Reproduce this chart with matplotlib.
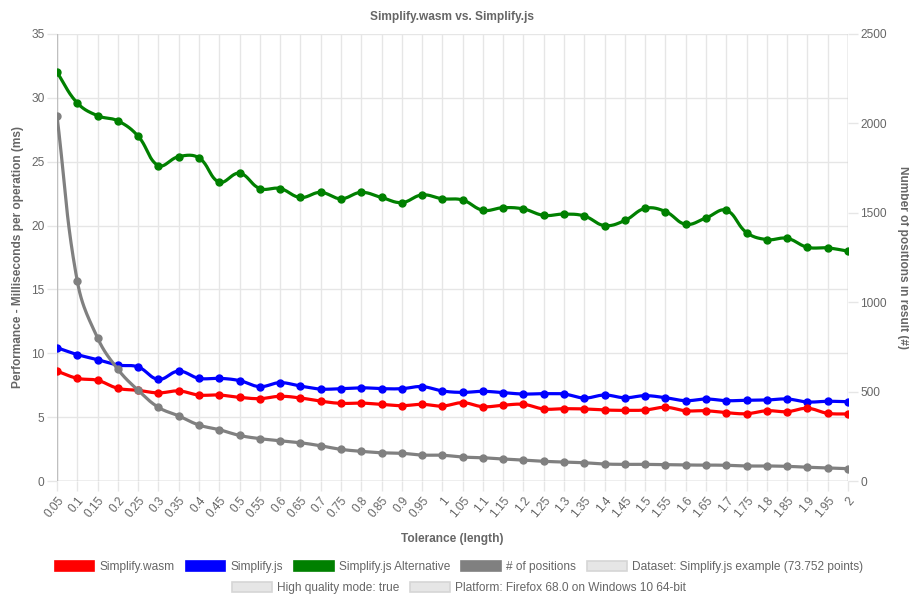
import numpy as np
import matplotlib.pyplot as plt
from matplotlib.patches import Rectangle

plt.rcParams['font.family'] = ['Liberation Sans', 'DejaVu Sans']

tolerance = ['0.05', '0.1', '0.15', '0.2', '0.25', '0.3', '0.35', '0.4', '0.45', '0.5',
             '0.55', '0.6', '0.65', '0.7', '0.75', '0.8', '0.85', '0.9', '0.95', '1',
             '1.05', '1.1', '1.15', '1.2', '1.25', '1.3', '1.35', '1.4', '1.45', '1.5',
             '1.55', '1.6', '1.65', '1.7', '1.75', '1.8', '1.85', '1.9', '1.95', '2']

wasm = [8.6, 8.04, 7.88, 7.26, 7.1, 6.9, 7.05, 6.73, 6.73, 6.55,
        6.45, 6.63, 6.5, 6.25, 6.08, 6.1, 6.0, 5.9, 6.0, 5.87,
        6.13, 5.82, 5.93, 6.0, 5.64, 5.66, 5.64, 5.56, 5.53, 5.56,
        5.77, 5.5, 5.5, 5.35, 5.27, 5.5, 5.43, 5.69, 5.3, 5.25]

simplify_js = [10.44, 9.9, 9.5, 9.08, 8.93, 7.96, 8.6, 8.04, 8.04, 7.86,
               7.39, 7.7, 7.43, 7.2, 7.23, 7.3, 7.23, 7.23, 7.39, 7.05,
               6.94, 7.02, 6.92, 6.81, 6.84, 6.81, 6.5, 6.73, 6.52, 6.68,
               6.52, 6.29, 6.42, 6.29, 6.32, 6.34, 6.42, 6.19, 6.24, 6.21]

simplify_alt = [32.0, 29.6, 28.6, 28.2, 27.0, 24.7, 25.4, 25.3, 23.4, 24.1,
                22.9, 22.9, 22.2, 22.6, 22.1, 22.6, 22.2, 21.8, 22.4, 22.1,
                22.0, 21.2, 21.4, 21.3, 20.8, 20.9, 20.75, 20.0, 20.4, 21.35,
                21.1, 20.1, 20.6, 21.2, 19.45, 18.9, 19.0, 18.3, 18.25, 18.0]

positions = [2041, 1118, 800, 625, 507, 412, 364, 313, 287, 255,
             237, 225, 214, 197, 177, 166, 158, 155, 145, 144,
             134, 130, 123, 117, 110, 106, 102, 95, 93, 93,
             91, 89, 89, 88, 84, 84, 82, 77, 73, 69]

info_labels = ['Dataset: Simplify.js example (73.752 points)',
               'High quality mode: true',
               'Platform: Firefox 68.0 on Windows 10 64-bit']

TXT = '#666666'
GRID = '#e6e6e6'


def smooth(ys, ypx, ymax, tension=0.4, steps=24):
    # Chart.js style bezier smoothing, done in pixel space
    xs = np.arange(len(ys)) * 20.28
    ps = np.column_stack([xs, np.array(ys, float) * ypx])
    n = len(ps)
    out = []
    cps = []
    for i in range(n):
        prev = ps[max(i - 1, 0)]
        cur = ps[i]
        nxt = ps[min(i + 1, n - 1)]
        d01 = np.hypot(*(cur - prev))
        d12 = np.hypot(*(nxt - cur))
        tot = d01 + d12
        s01 = d01 / tot if tot else 0
        s12 = d12 / tot if tot else 0
        c1 = cur - tension * s01 * (nxt - prev)
        c2 = cur + tension * s12 * (nxt - prev)
        c1[1] = np.clip(c1[1], 0, ymax * ypx)
        c2[1] = np.clip(c2[1], 0, ymax * ypx)
        cps.append((c1, c2))
    t = np.linspace(0, 1, steps)[:, None]
    for i in range(n - 1):
        p0, p3 = ps[i], ps[i + 1]
        p1, p2 = cps[i][1], cps[i + 1][0]
        seg = (1 - t) ** 3 * p0 + 3 * (1 - t) ** 2 * t * p1 + 3 * (1 - t) * t ** 2 * p2 + t ** 3 * p3
        out.append(seg)
    pts = np.vstack(out)
    return pts[:, 0] / 20.28, pts[:, 1] / ypx


fig = plt.figure(figsize=(9.09, 5.99), dpi=100)
ax = fig.add_axes([57 / 909, 1 - 481 / 599, (848 - 57) / 909, (481 - 34) / 599])
ax2 = ax.twinx()

idx = np.arange(len(tolerance))
lw = 2.3
ms = 5

series = [(wasm, '#ff0000', 'Simplify.wasm', 6),
          (simplify_js, '#0000ff', 'Simplify.js', 5),
          (simplify_alt, '#008000', 'Simplify.js Alternative', 4)]
for vals, col, lab, z in series:
    sx, sy = smooth(vals, 12.77, 35)
    ax.plot(sx, sy, color=col, lw=lw, zorder=z, solid_capstyle='round')
    ax.plot(idx, vals, 'o', color=col, ms=ms, zorder=z)

# right axis sits above, transparent, so the grid of ax stays underneath
ax.set_zorder(1)
ax2.set_zorder(2)
ax2.patch.set_visible(False)
sx, sy = smooth(positions, 0.1788, 2500)
ax2.plot(sx, sy, color='#808080', lw=lw, zorder=3)
ax2.plot(idx, positions, 'o', color='#808080', ms=ms, zorder=3)

ax.set_xlim(0, len(tolerance) - 1)
ax.set_ylim(0, 35)
ax2.set_ylim(0, 2500)
ax.set_yticks(range(0, 36, 5))
ax2.set_yticks(range(0, 2501, 500))
ax.set_xticks(idx)
ax.set_xticklabels(tolerance, rotation=50, ha='right', rotation_mode='anchor')

ax.grid(True, color=GRID, lw=1)
ax.set_axisbelow(True)
for a in (ax, ax2):
    a.tick_params(colors=TXT, labelsize=8.6, length=7, width=1)
    a.tick_params(axis='both', color=GRID)
    for s in a.spines.values():
        s.set_visible(False)
ax.tick_params(axis='x', pad=3)
ax.tick_params(axis='y', pad=2)
ax2.tick_params(axis='y', pad=2)

# axis lines
ax.axvline(0, color='#bfbfbf', lw=1, zorder=1)
ax.axhline(0, color='#bfbfbf', lw=1, zorder=1)
ax.axvline(len(tolerance) - 1, color='#bfbfbf', lw=1, zorder=1)

ax.set_xlabel('Tolerance (length)', color=TXT, fontsize=8.6, fontweight='bold', labelpad=9)
ax.set_ylabel('Performance - Milliseconds per operation (ms)', color=TXT, fontsize=8.6,
              fontweight='bold', labelpad=5)
ax2.set_ylabel('Number of positions in result (#)', color=TXT, fontsize=8.6,
               fontweight='bold', rotation=270, labelpad=16)
ax.set_title('Simplify.wasm vs. Simplify.js', color=TXT, fontsize=8.6, fontweight='bold', pad=10)

# legend
def box(fc, ec):
    return Rectangle((0, 0), 1, 1, facecolor=fc, edgecolor=ec, lw=1.2)

leg_kw = dict(frameon=False, handlelength=3.33, handleheight=1.0, handletextpad=0.45,
              columnspacing=0.9, fontsize=8.6, labelcolor=TXT, loc='center',
              borderaxespad=0, borderpad=0)
h1 = [box('#ff0000', '#ff0000'), box('#0000ff', '#0000ff'), box('#008000', '#008000'),
      box('#808080', '#808080'), box('#e6e6e6', '#d6d6d6')]
l1 = ['Simplify.wasm', 'Simplify.js', 'Simplify.js Alternative', '# of positions', info_labels[0]]
fig.legend(h1, l1, ncol=5, bbox_to_anchor=(459 / 909, 1 - 567 / 599), **leg_kw)
h2 = [box('#e6e6e6', '#d6d6d6'), box('#e6e6e6', '#d6d6d6')]
fig.legend(h2, info_labels[1:], ncol=2, bbox_to_anchor=(459 / 909, 1 - 588 / 599), **leg_kw)

fig.savefig('out.png', dpi=100)
